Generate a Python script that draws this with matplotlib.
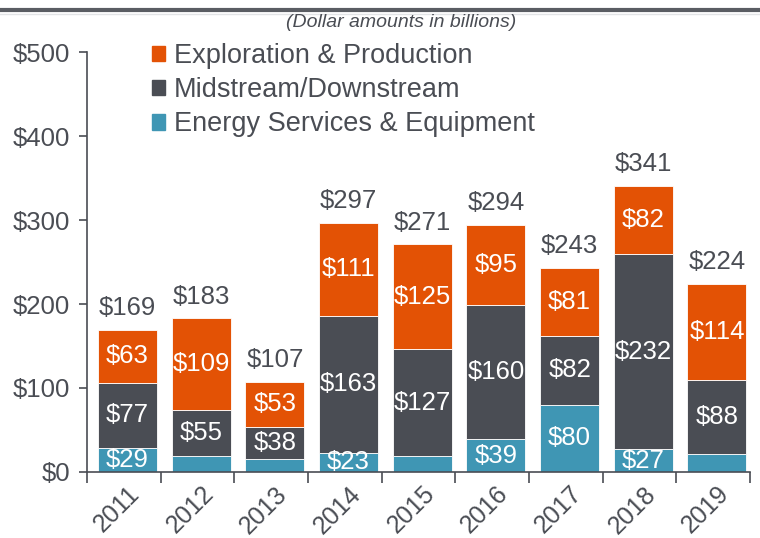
import numpy as np
import matplotlib.pyplot as plt
from matplotlib.lines import Line2D
from matplotlib.patches import Patch

years = ["2011", "2012", "2013", "2014", "2015", "2016", "2017", "2018", "2019"]
services = [29, 19, 16, 23, 19, 39, 80, 27, 22]
midstream = [77, 55, 38, 163, 127, 160, 82, 232, 88]
exploration = [63, 109, 53, 111, 125, 95, 81, 82, 114]
totals = [169, 183, 107, 297, 271, 294, 243, 341, 224]
show_services = [True, False, False, True, False, True, True, True, False]

c_exp = "#E35205"
c_mid = "#4A4D54"
c_srv = "#3F96B4"
c_txt = "#4A4D54"

plt.rcParams["font.family"] = ["Liberation Sans", "DejaVu Sans"]

fig = plt.figure(figsize=(7.6, 5.38), dpi=100)
ax = fig.add_axes([0.1145, 0.1227, 0.8725, 0.7806])

x = np.arange(len(years))
w = 0.8
srv = np.array(services)
mid = np.array(midstream)
exp = np.array(exploration)

ax.bar(x, srv, w, color=c_srv, edgecolor="white", linewidth=0.6)
ax.bar(x, mid, w, bottom=srv, color=c_mid, edgecolor="white", linewidth=0.6)
ax.bar(x, exp, w, bottom=srv + mid, color=c_exp, edgecolor="white", linewidth=0.6)

fs = 18.5
for i in range(len(years)):
    if show_services[i]:
        ax.text(x[i], srv[i] / 2, f"${services[i]}", ha="center", va="center",
                color="white", fontsize=fs)
    ax.text(x[i], srv[i] + mid[i] / 2, f"${midstream[i]}", ha="center", va="center",
            color="white", fontsize=fs)
    ax.text(x[i], srv[i] + mid[i] + exp[i] / 2, f"${exploration[i]}", ha="center",
            va="center", color="white", fontsize=fs)
    ax.annotate(f"${totals[i]}", (x[i], totals[i]), xytext=(0, 7),
                textcoords="offset points", ha="center", va="bottom",
                color=c_txt, fontsize=fs)

ax.set_xlim(-0.55, len(years) - 0.55)
ax.set_ylim(0, 500)
ax.set_yticks(range(0, 501, 100))
ax.set_yticklabels([f"${v}" for v in range(0, 501, 100)], fontsize=fs, color=c_txt)
ax.set_xticks(x)
ax.set_xticklabels(years, rotation=45, ha="right", rotation_mode="anchor",
                   fontsize=18, color=c_txt)
ax.set_xticks(np.arange(len(years) + 1) - 0.55, minor=True)
ax.tick_params(axis="x", which="major", length=0, pad=7)
ax.tick_params(axis="x", which="minor", length=8, width=1.2, color=c_txt, direction="out")
ax.tick_params(axis="y", length=6, width=1.2, color=c_txt, pad=6)

for s in ["top", "right"]:
    ax.spines[s].set_visible(False)
for s in ["left", "bottom"]:
    ax.spines[s].set_color(c_txt)
    ax.spines[s].set_linewidth(1.2)

handles = [Patch(color=c_exp), Patch(color=c_mid), Patch(color=c_srv)]
labels = ["Exploration & Production", "Midstream/Downstream", "Energy Services & Equipment"]
leg = fig.legend(handles, labels, loc="upper left", bbox_to_anchor=(0.175, 0.955),
                 frameon=False, fontsize=19.5, handlelength=0.5, handleheight=0.5,
                 handletextpad=0.3, labelspacing=0.3, labelcolor=c_txt,
                 borderpad=0.2)

fig.text(0.528, 0.958, "(Dollar amounts in billions)", ha="center", va="center",
         style="italic", fontsize=14, color=c_txt)

fig.add_artist(Line2D([0, 1], [0.982, 0.982], color="#5A5D63", linewidth=3))
fig.add_artist(Line2D([0, 1], [0.974, 0.974], color="#E2E4E6", linewidth=1))

fig.savefig("out.png", dpi=100)
